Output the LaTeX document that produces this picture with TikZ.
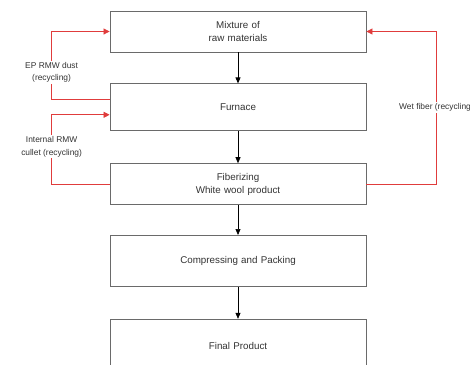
\documentclass[tikz,border=0pt]{standalone}
\usepackage{fontspec}
\setmainfont{Liberation Sans}
\usetikzlibrary{arrows.meta, positioning}
\definecolor{boxgray}{HTML}{6A6A6A}
\definecolor{textgray}{HTML}{333333}
\definecolor{loopred}{HTML}{E03C3C}

\begin{document}
\begin{tikzpicture}[x=1pt, y=-1pt, font=\fontsize{9.8}{13}\selectfont, text=textgray]
    \tikzstyle{stage} = [rectangle, minimum width=256pt, text width=250pt, align=center, draw=boxgray, line width=0.8pt, inner sep=0pt, fill=white]
    \tikzstyle{flow} = [-{Triangle[length=6pt, width=5pt]}, line width=0.7pt, black]
    \tikzstyle{recycle} = [-{Triangle[length=6pt, width=6pt]}, line width=0.7pt, loopred]
    \tikzstyle{note} = [font=\fontsize{8.4}{12.5}\selectfont, text=textgray, align=center, fill=white, inner sep=1.5pt]

    \path[use as bounding box, clip] (0,0) rectangle (470,364);

    \node (mix) [stage, minimum height=41pt] at (238,31.5) {Mixture of\\raw materials};
    \node (furnace) [stage, minimum height=47pt, below=31pt of mix] {Furnace};
    \node (fiber) [stage, minimum height=41pt, below=32pt of furnace] {Fiberizing\\White wool product};
    \node (pack) [stage, minimum height=51pt, below=30pt of fiber] {Compressing and Packing};
    \node (final) [stage, minimum height=54pt, below=32pt of pack] {Final Product};

    \draw [flow] (mix.south) -- (furnace.north);
    \draw [flow] (furnace.south) -- (fiber.north);
    \draw [flow] (fiber.south) -- (pack.north);
    \draw [flow] (pack.south) -- (final.north);

    % recycling loops
    \draw [recycle] ([yshift=7.5pt]furnace.west) -- ++(-58,0)
      |- (mix.west) node[pos=0.2, note] {EP RMW dust\\(recycling)};
    \draw [recycle] (fiber.west) -- ++(-58,0)
      |- ([yshift=-7.5pt]furnace.west) node[pos=0.27, note] {Internal RMW\\cullet (recycling)};
    \draw [recycle] (fiber.east) -- ++(70,0)
      |- (mix.east) node[pos=0.25, note] {Wet fiber (recycling)};
\end{tikzpicture}
\end{document}
